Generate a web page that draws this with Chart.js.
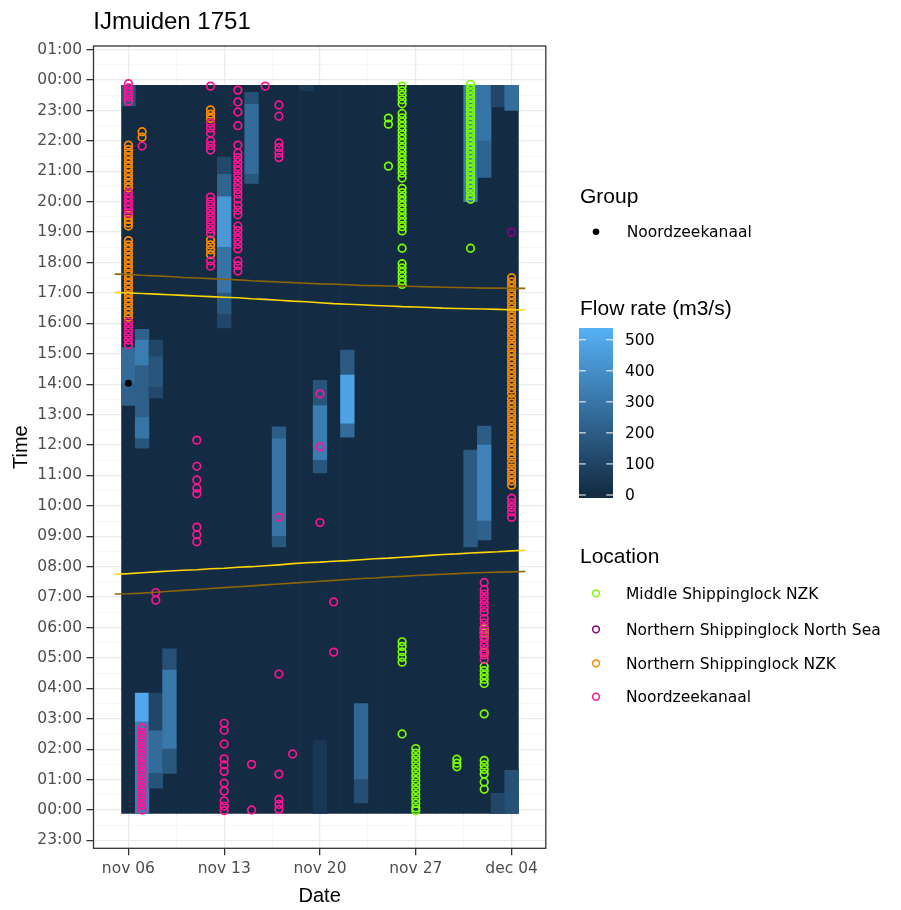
<!DOCTYPE html>
<html>
<head>
<meta charset="utf-8">
<script src="https://cdn.jsdelivr.net/npm/chart.js@4.4.1/dist/chart.umd.min.js"></script>
<style>
  html, body { margin: 0; padding: 0; background: #ffffff; }
</style>
</head>
<body>
<canvas id="myChart" width="901" height="910"></canvas>
<script>
const ctx = document.querySelector("#myChart").getContext("2d")

// x = day of november (dec 04 = 34), y = hour of day
const xTickDays = [6, 13, 20, 27, 34]
const xTickLabels = ["nov 06", "nov 13", "nov 20", "nov 27", "dec 04"]
const yTickHours = [-1, 0, 1, 2, 3, 4, 5, 6, 7, 8, 9, 10, 11, 12, 13, 14, 15, 16, 17, 18, 19, 20, 21, 22, 23, 24, 25]
const yTickLabels = ["23:00", "00:00", "01:00", "02:00", "03:00", "04:00", "05:00", "06:00", "07:00", "08:00", "09:00",
  "10:00", "11:00", "12:00", "13:00", "14:00", "15:00", "16:00", "17:00", "18:00", "19:00", "20:00", "21:00",
  "22:00", "23:00", "00:00", "01:00"]

// flow rate tiles: every day has a base tile of 0, plus runs with flow
const tileDays = [6, 7, 8, 9, 10, 11, 12, 13, 14, 15, 16, 17, 18, 19, 20, 21, 22, 23, 24, 25, 26, 27, 28, 29, 30, 31, 32, 33, 34]
const tileFrom = -0.11
const tileTo = 23.83
const flowDay  = [6, 6, 6, 7, 7, 7, 7, 7, 8, 8, 8,
  13, 13, 13, 13, 13, 13, 15, 15, 15, 17, 17, 17, 19, 20, 20, 20, 22, 22, 22,
  31, 31, 32, 32, 32, 32, 32, 33, 33, 34, 34,
  7, 7, 8, 8, 8, 9, 9, 9, 23, 23, 20]
const flowFrom = [23.83, 15.2, 14.0, 15.8, 15.45, 14.6, 12.9, 12.2, 15.45, 14.9, 13.9,
  21.47, 20.9, 20.16, 18.5, 17.0, 16.3, 23.6, 23.2, 20.9, 12.6, 12.2, 9.0, 23.83, 14.13, 13.3, 11.5, 15.12, 14.3, 12.7,
  23.83, 11.83, 23.83, 22.0, 12.62, 12.0, 9.5, 23.83, 0.55, 23.83, 1.3,
  3.84, 2.9, 3.84, 2.6, 1.2, 5.3, 4.6, 2.0, 3.5, 1.0, 2.3]
const flowTo   = [23.15, 14.0, 13.3, 15.45, 14.6, 12.9, 12.2, 11.9, 14.9, 13.9, 13.55,
  20.9, 20.16, 18.5, 17.0, 16.3, 15.85, 23.2, 20.9, 20.6, 12.2, 9.0, 8.65, 23.65, 13.3, 11.5, 11.08, 14.3, 12.7, 12.26,
  20.0, 8.65, 22.0, 20.8, 12.0, 9.5, 8.88, 23.12, -0.11, 23.0, -0.11,
  2.9, -0.11, 2.6, 1.2, 0.72, 4.6, 2.0, 1.2, 1.0, 0.23, -0.11]
const flowRate = [180, 260, 220, 220, 330, 210, 300, 170, 110, 170, 120,
  120, 230, 440, 290, 180, 110, 150, 260, 180, 200, 290, 180, 60, 170, 330, 170, 190, 480, 260,
  330, 190, 300, 230, 200, 350, 220, 110, 110, 270, 150,
  500, 340, 110, 260, 160, 150, 310, 180, 240, 140, 50]
const flowMax = 540
const flowTicks = [0, 100, 200, 300, 400, 500]

// sunrise / sunset and civil twilight
const sunDays = [5, 6, 7, 8, 9, 10, 11, 12, 13, 14, 15, 16, 17, 18, 19, 20, 21, 22, 23, 24, 25, 26, 27, 28, 29, 30, 31, 32, 33, 34, 35]
const sunsetHours = [17.02, 17.00, 16.98, 16.96, 16.94, 16.92, 16.90, 16.88, 16.86, 16.84, 16.81, 16.79, 16.76, 16.73, 16.71, 16.68,
  16.65, 16.63, 16.61, 16.59, 16.57, 16.55, 16.54, 16.52, 16.50, 16.49, 16.48, 16.47, 16.46, 16.45, 16.44]
const duskHours = [17.62, 17.61, 17.58, 17.56, 17.54, 17.51, 17.49, 17.47, 17.45, 17.43, 17.40, 17.38, 17.36, 17.34, 17.32, 17.30,
  17.29, 17.27, 17.25, 17.24, 17.23, 17.22, 17.21, 17.20, 17.19, 17.18, 17.17, 17.16, 17.16, 17.15, 17.15]
const sunriseHours = [7.75, 7.77, 7.80, 7.83, 7.86, 7.88, 7.90, 7.93, 7.95, 7.98, 8.00, 8.03, 8.06, 8.10, 8.13, 8.15,
  8.18, 8.20, 8.23, 8.26, 8.28, 8.31, 8.34, 8.37, 8.40, 8.42, 8.45, 8.47, 8.49, 8.52, 8.54]
const dawnHours = [7.10, 7.11, 7.13, 7.16, 7.19, 7.22, 7.25, 7.28, 7.31, 7.34, 7.37, 7.40, 7.43, 7.46, 7.49, 7.52,
  7.55, 7.58, 7.61, 7.63, 7.66, 7.68, 7.71, 7.73, 7.75, 7.77, 7.79, 7.81, 7.82, 7.83, 7.84]

// detections per location: [day, hour]
const middleLockPts = [
  [25, 22.75], [25, 22.55], [25, 21.17],
  [26, 23.8], [26, 23.65], [26, 23.5], [26, 23.35], [26, 23.22], [26, 22.9], [26, 22.76], [26, 22.62], [26, 22.48],
  [26, 22.34], [26, 22.2], [26, 22.06], [26, 21.92], [26, 21.78], [26, 21.64], [26, 21.5], [26, 21.36], [26, 21.22],
  [26, 21.08], [26, 20.94], [26, 20.78], [26, 20.44], [26, 20.3], [26, 20.16], [26, 20.02], [26, 19.88], [26, 19.74],
  [26, 19.6], [26, 19.46], [26, 19.32], [26, 19.18], [26, 19.04], [26, 18.47], [26, 17.96], [26, 17.82], [26, 17.68],
  [26, 17.54], [26, 17.4], [26, 17.28],
  [26, 5.53], [26, 5.38], [26, 5.2], [26, 5.02], [26, 4.86], [26, 2.5],
  [27, 2.02], [27, 1.87], [27, 1.72], [27, 1.57], [27, 1.42], [27, 1.27], [27, 1.12], [27, 0.97], [27, 0.82],
  [27, 0.67], [27, 0.52], [27, 0.37], [27, 0.22], [27, 0.07], [27, -0.02],
  [30, 1.67], [30, 1.54], [30, 1.42],
  [31, 23.86], [31, 23.72], [31, 23.58], [31, 23.44], [31, 23.3], [31, 23.16], [31, 23.02], [31, 22.88], [31, 22.74],
  [31, 22.6], [31, 22.46], [31, 22.32], [31, 22.18], [31, 22.04], [31, 21.9], [31, 21.76], [31, 21.62], [31, 21.48],
  [31, 21.34], [31, 21.2], [31, 21.06], [31, 20.92], [31, 20.78], [31, 20.64], [31, 20.5], [31, 20.36], [31, 20.2],
  [31, 20.08], [31, 18.47],
  [32, 5.95], [32, 5.82], [32, 4.72], [32, 4.58], [32, 4.44], [32, 4.3], [32, 4.16], [32, 3.16], [32, 1.63], [32, 1.48],
  [32, 1.33], [32, 1.18], [32, 0.92], [32, 0.68]
]
const northSeaLockPts = [[34, 19.0]]
const northLockPts = [
  [6, 21.86], [6, 21.72], [6, 21.58], [6, 21.44], [6, 21.3], [6, 21.16], [6, 21.02], [6, 20.88], [6, 20.74], [6, 20.6],
  [6, 20.46], [6, 19.55], [6, 19.42], [6, 19.3], [6, 19.2],
  [6, 18.72], [6, 18.58], [6, 18.44], [6, 18.3], [6, 18.16], [6, 18.02], [6, 17.88], [6, 17.74], [6, 17.6], [6, 17.46],
  [6, 17.32], [6, 17.18], [6, 17.04], [6, 16.9], [6, 16.76], [6, 16.62], [6, 16.48], [6, 16.34], [6, 16.2],
  [7, 22.3], [7, 22.12],
  [12, 23.02], [12, 22.88], [12, 22.74], [12, 18.74], [12, 18.58], [12, 18.42], [12, 18.26],
  [32, 5.68], [32, 5.18],
  [34, 17.5], [34, 17.36], [34, 17.22], [34, 17.08], [34, 16.94], [34, 16.8], [34, 16.66], [34, 16.52], [34, 16.38],
  [34, 16.24], [34, 16.1], [34, 15.96], [34, 15.82], [34, 15.68], [34, 15.54], [34, 15.38], [34, 15.24], [34, 15.1],
  [34, 14.96], [34, 14.82], [34, 14.68], [34, 14.54], [34, 14.4], [34, 14.26], [34, 14.12], [34, 13.98], [34, 13.84],
  [34, 13.7], [34, 13.52], [34, 13.38], [34, 13.24], [34, 13.1], [34, 12.96], [34, 12.82], [34, 12.68], [34, 12.54],
  [34, 12.4], [34, 12.26], [34, 12.12], [34, 11.98], [34, 11.84], [34, 11.7], [34, 11.56], [34, 11.4], [34, 11.24],
  [34, 11.1], [34, 10.96], [34, 10.82], [34, 10.68]
]
const canalPts = [
  [6, 23.88], [6, 23.74], [6, 23.6], [6, 23.45], [6, 23.3], [6, 20.3], [6, 20.16], [6, 20.02], [6, 19.88], [6, 19.74],
  [6, 19.62], [6, 16.05], [6, 15.9], [6, 15.75], [6, 15.6], [6, 15.45], [6, 15.3],
  [7, 21.83], [7, 2.7], [7, 2.55], [7, 2.4], [7, 2.25], [7, 2.1], [7, 1.95], [7, 1.8], [7, 1.65], [7, 1.5], [7, 1.35],
  [7, 1.2], [7, 1.05], [7, 0.9], [7, 0.75], [7, 0.6], [7, 0.45], [7, 0.3], [7, 0.15], [7, 0.0],
  [8, 7.15], [8, 6.9],
  [11, 12.16], [11, 11.3], [11, 10.85], [11, 10.58], [11, 10.4], [11, 9.3], [11, 9.05], [11, 8.82],
  [12, 23.8], [12, 22.58], [12, 22.42], [12, 22.26], [12, 22.0], [12, 21.85], [12, 21.7], [12, 20.15], [12, 20.0],
  [12, 19.85], [12, 19.7], [12, 19.55], [12, 19.4], [12, 19.25], [12, 19.1], [12, 18.95], [12, 18.05], [12, 17.88],
  [13, 2.85], [13, 2.62], [13, 2.17], [13, 1.68], [13, 1.48], [13, 1.27], [13, 0.88], [13, 0.62], [13, 0.3],
  [13, 0.13], [13, -0.02],
  [14, 23.67], [14, 23.28], [14, 22.95], [14, 22.5], [14, 21.86], [14, 21.6], [14, 21.45], [14, 21.3], [14, 21.15],
  [14, 21.02], [14, 20.85], [14, 20.7], [14, 20.55], [14, 20.4], [14, 20.25], [14, 20.08], [14, 19.88], [14, 19.72],
  [14, 19.57], [14, 19.2], [14, 19.05], [14, 18.9], [14, 18.75], [14, 18.6], [14, 18.45], [14, 18.05], [14, 17.9],
  [14, 17.72],
  [15, 1.5], [15, 0.0], [16, 23.8],
  [17, 23.18], [17, 22.81], [17, 21.93], [17, 21.78], [17, 21.6], [17, 21.45], [17, 9.63], [17, 4.47], [17, 1.18],
  [17, 0.35], [17, 0.18], [17, 0.02],
  [18, 1.84], [20, 13.68], [20, 11.94], [20, 9.45], [21, 6.84], [21, 5.19],
  [32, 7.48], [32, 7.25], [32, 7.1], [32, 6.95], [32, 6.8], [32, 6.65], [32, 6.5], [32, 6.3], [32, 6.15], [32, 6.0],
  [32, 5.85], [32, 5.7], [32, 5.55], [32, 5.4], [32, 5.25], [32, 5.1], [32, 4.95],
  [34, 10.25], [34, 10.1], [34, 9.95], [34, 9.8], [34, 9.62]
]
const groupPts = [[6, 14.03]]

const locationNames = ["Middle Shippinglock NZK", "Northern Shippinglock North Sea", "Northern Shippinglock NZK", "Noordzeekanaal"]
const locationColors = ["#7CFC00", "#8B008B", "#FF8C00", "#FF1493"]

const lowRgb = [19, 43, 67]
const highRgb = [86, 177, 247]
function flowColor(v) {
  const t = Math.max(0, Math.min(1, v / flowMax))
  const c = lowRgb.map((l, i) => Math.round(l + (highRgb[i] - l) * t))
  return `rgb(${c[0]},${c[1]},${c[2]})`
}

const tileData = []
const tileColors = []
tileDays.forEach(d => { tileData.push({ x: d, y: [tileFrom, tileTo] }); tileColors.push(flowColor(0)) })
flowDay.forEach((d, i) => { tileData.push({ x: d, y: [flowTo[i], flowFrom[i]] }); tileColors.push(flowColor(flowRate[i])) })

const toXY = pts => pts.map(p => ({ x: p[0], y: p[1] }))
const sunLine = hours => sunDays.map((d, i) => ({ x: d, y: hours[i] }))

const pointSet = (label, pts, color, order) => ({
  type: "scatter", label, data: toXY(pts), order,
  pointStyle: "circle", pointRadius: 3.8, borderWidth: 1.7,
  borderColor: color, backgroundColor: "rgba(0,0,0,0)"
})
const lineSet = (label, hours, color) => ({
  type: "line", label, data: sunLine(hours), order: 1,
  borderColor: color, borderWidth: 1.6, pointRadius: 0, tension: 0, fill: false
})

const tickVal = c => (c && c.tick) ? c.tick.value : NaN
const isMajorX = v => xTickDays.includes(v)
const isMajorY = v => yTickHours.includes(v)
const minorX = xTickDays.slice(0, -1).map(v => v + 3.5)
const minorY = yTickHours.slice(0, -1).map(v => v + 0.5)

const labelFont = { family: "DejaVu Sans", size: 15.5 }

const decor = {
  id: "decor",
  afterDatasetsDraw(chart) {
    const a = chart.chartArea
    const c = chart.ctx
    c.save()
    c.strokeStyle = "#333333"
    c.lineWidth = 1.3
    c.strokeRect(a.left, a.top, a.right - a.left, a.bottom - a.top)
    c.restore()
  },
  afterDraw(chart) {
    const a = chart.chartArea
    const c = chart.ctx
    c.save()
    c.fillStyle = "#000000"
    c.textBaseline = "alphabetic"
    c.textAlign = "left"
    c.font = '24px "Liberation Sans"'
    c.fillText("IJmuiden 1751", 93.3, 29.3)

    c.font = '20px "Liberation Sans"'
    c.textAlign = "center"
    c.fillText("Date", (a.left + a.right) / 2, 901.7)
    c.save()
    c.translate(27, (a.top + a.bottom) / 2)
    c.rotate(-Math.PI / 2)
    c.fillText("Time", 0, 0)
    c.restore()

    // legends
    c.textAlign = "left"
    c.font = '21px "Liberation Sans"'
    c.fillText("Group", 580, 203.3)
    c.fillText("Flow rate (m3/s)", 580, 315)
    c.fillText("Location", 580, 563.3)

    c.font = '15.5px "DejaVu Sans"'
    c.textBaseline = "middle"
    c.beginPath()
    c.arc(596, 231.7, 3.3, 0, Math.PI * 2)
    c.fill()
    c.fillText("Noordzeekanaal", 626.7, 233)

    const barTop = 328, barBottom = 498, barL = 579, barR = 613
    const zeroY = 495, pxPerUnit = 0.3105
    const g = c.createLinearGradient(0, zeroY, 0, zeroY - flowMax * pxPerUnit)
    g.addColorStop(0, flowColor(0))
    g.addColorStop(1, flowColor(flowMax))
    c.fillStyle = g
    c.fillRect(barL, barTop, barR - barL, barBottom - barTop)
    c.strokeStyle = "#ffffff"
    c.lineWidth = 1
    c.fillStyle = "#000000"
    flowTicks.forEach(v => {
      const y = zeroY - v * pxPerUnit
      c.beginPath()
      c.moveTo(barL, y); c.lineTo(barL + 6.8, y)
      c.moveTo(barR - 6.8, y); c.lineTo(barR, y)
      c.stroke()
      c.fillText(String(v), 625, y + 1)
    })

    const itemY = [593.3, 629.3, 663.3, 696.7]
    locationNames.forEach((name, i) => {
      c.strokeStyle = locationColors[i]
      c.lineWidth = 1.5
      c.beginPath()
      c.arc(596, itemY[i], 3.4, 0, Math.PI * 2)
      c.stroke()
      c.fillStyle = "#000000"
      c.fillText(name, 626, itemY[i] + 1.5)
    })
    c.restore()
  }
}

new Chart(ctx, {
  type: "scatter",
  data: {
    datasets: [
      lineSet("Sunset", sunsetHours, "#FFD700"),
      lineSet("Civil dusk", duskHours, "#8B6508"),
      lineSet("Sunrise", sunriseHours, "#FFD700"),
      lineSet("Civil dawn", dawnHours, "#8B6508"),
      { type: "scatter", label: "Group", data: toXY(groupPts), order: 2.0, pointStyle: "circle",
        pointRadius: 3.5, borderWidth: 0, backgroundColor: "#000000" },
      pointSet(locationNames[3], canalPts, locationColors[3], 2.1),
      pointSet(locationNames[2], northLockPts, locationColors[2], 2.2),
      pointSet(locationNames[0], middleLockPts, locationColors[0], 2.3),
      pointSet(locationNames[1], northSeaLockPts, locationColors[1], 2.4),
      {
        type: "bar", label: "Flow rate", data: tileData, order: 3,
        backgroundColor: tileColors, borderWidth: 0,
        barPercentage: 1, categoryPercentage: 1
      }
    ]
  },
  options: {
    responsive: false,
    animation: false,
    events: [],
    layout: { padding: { top: 46, right: 355.2, bottom: 0, left: 0 } },
    plugins: { legend: { display: false }, tooltip: { enabled: false }, title: { display: false } },
    scales: {
      x: {
        type: "linear", min: 3.45, max: 36.5, offset: false,
        afterBuildTicks: ax => { ax.ticks = xTickDays.concat(minorX).sort((p, q) => p - q).map(v => ({ value: v })) },
        afterFit: ax => { ax.height = 61.7 },
        border: { display: false },
        grid: {
          offset: false,
          color: c => isMajorX(tickVal(c)) ? "#EBEBEB" : "#F3F3F3",
          lineWidth: c => isMajorX(tickVal(c)) ? 1.3 : 0.7,
          tickColor: c => isMajorX(tickVal(c)) ? "#333333" : "rgba(0,0,0,0)",
          tickLength: 7, tickWidth: 1.3
        },
        ticks: {
          autoSkip: false, maxRotation: 0, padding: 4, color: "#4D4D4D", font: labelFont,
          callback: v => isMajorX(v) ? xTickLabels[xTickDays.indexOf(v)] : ""
        }
      },
      y: {
        type: "linear", min: -1.26, max: 25.12, offset: false,
        afterBuildTicks: ax => { ax.ticks = yTickHours.concat(minorY).sort((p, q) => p - q).map(v => ({ value: v })) },
        afterFit: ax => { ax.width = 93.5 },
        border: { display: false },
        grid: {
          offset: false,
          color: c => isMajorY(tickVal(c)) ? "#EBEBEB" : "#F3F3F3",
          lineWidth: c => isMajorY(tickVal(c)) ? 1.3 : 0.7,
          tickColor: c => isMajorY(tickVal(c)) ? "#333333" : "rgba(0,0,0,0)",
          tickLength: 7, tickWidth: 1.3
        },
        ticks: {
          autoSkip: false, padding: 4.5, color: "#4D4D4D", font: labelFont,
          callback: v => isMajorY(v) ? yTickLabels[yTickHours.indexOf(v)] : ""
        }
      }
    }
  },
  plugins: [decor]
})
</script>
</body>
</html>
